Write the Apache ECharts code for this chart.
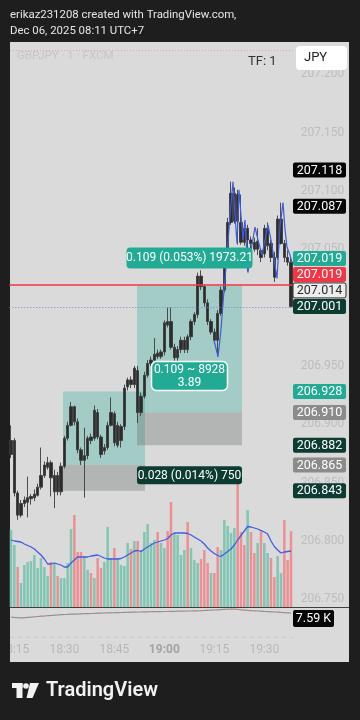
<!DOCTYPE html>
<html>
<head>
<meta charset="utf-8">
<script src="https://cdn.jsdelivr.net/npm/echarts@6/dist/echarts.min.js"></script>
<style>
  html, body { margin: 0; padding: 0; background: #1e1e1e; }
  #chart { width: 360px; height: 720px; }
</style>
</head>
<body>
<div id="chart"></div>
<script>
// GBPJPY 1-minute bars, 18:14 - 19:38
const minutes = [
  '18:14','18:15','18:16','18:17','18:18','18:19','18:20','18:21','18:22','18:23',
  '18:24','18:25','18:26','18:27','18:28','18:29','18:30','18:31','18:32','18:33',
  '18:34','18:35','18:36','18:37','18:38','18:39','18:40','18:41','18:42','18:43',
  '18:44','18:45','18:46','18:47','18:48','18:49','18:50','18:51','18:52','18:53',
  '18:54','18:55','18:56','18:57','18:58','18:59','19:00','19:01','19:02','19:03',
  '19:04','19:05','19:06','19:07','19:08','19:09','19:10','19:11','19:12','19:13',
  '19:14','19:15','19:16','19:17','19:18','19:19','19:20','19:21','19:22','19:23',
  '19:24','19:25','19:26','19:27','19:28','19:29','19:30','19:31','19:32','19:33',
  '19:34','19:35','19:36','19:37','19:38'
];
const timeTicks = ['18:15', '18:30', '18:45', '19:00', '19:15', '19:30'];

const opens = [
  206.874,206.841,206.841,206.822,206.832,206.833,206.836,206.837,206.839,206.846,
  206.856,206.863,206.867,206.842,206.856,206.842,206.864,206.888,206.899,206.915,
  206.902,206.878,206.869,206.873,206.889,206.888,206.910,206.889,206.877,206.880,
  206.899,206.909,206.882,206.886,206.898,206.932,206.938,206.934,206.946,206.910,
  206.924,206.942,206.952,206.955,206.961,206.958,206.962,206.988,206.988,206.957,
  206.957,206.964,206.964,206.975,206.975,206.988,206.994,207.027,207.018,207.004,
  206.979,206.979,206.995,206.995,207.015,207.043,207.073,207.074,207.097,207.073,
  207.068,207.058,207.058,207.056,207.050,207.049,207.046,207.053,207.055,207.043,
  207.043,207.055,207.055,207.043,207.039
];
const closes = [
  206.886,206.886,206.822,206.832,206.835,206.837,206.838,206.840,206.846,206.856,
  206.865,206.867,206.854,206.856,206.842,206.864,206.888,206.899,206.915,206.902,
  206.878,206.869,206.873,206.888,206.886,206.912,206.889,206.874,206.880,206.899,
  206.910,206.884,206.899,206.898,206.931,206.938,206.934,206.948,206.910,206.924,
  206.942,206.952,206.955,206.960,206.958,206.962,206.987,206.985,206.966,206.966,
  206.964,206.972,206.972,206.964,206.988,206.994,207.027,207.018,207.004,206.988,
  206.988,206.972,206.972,207.015,207.043,207.073,207.098,207.098,207.074,207.056,
  207.056,207.068,207.055,207.050,207.057,207.043,207.068,207.068,207.043,207.026,
  207.076,207.076,207.043,207.039,207.001
];
const lows = [
  206.871,206.838,206.818,206.820,206.829,206.820,206.831,206.834,206.838,206.844,
  206.854,206.861,206.838,206.828,206.839,206.839,206.862,206.886,206.898,206.899,
  206.875,206.865,206.837,206.870,206.883,206.886,206.887,206.871,206.874,206.878,
  206.898,206.881,206.880,206.880,206.895,206.929,206.931,206.931,206.901,206.907,
  206.922,206.940,206.950,206.952,206.956,206.956,206.959,206.983,206.964,206.954,
  206.953,206.961,206.961,206.961,206.972,206.985,206.991,207.015,207.001,206.985,
  206.977,206.970,206.958,206.993,207.013,207.040,207.071,207.072,207.054,207.054,
  207.053,207.031,207.049,207.048,207.045,207.039,207.043,207.049,207.039,207.022,
  207.041,207.054,207.039,207.036,207.000
];
const highs = [
  206.899,206.888,206.843,206.835,206.838,206.855,206.840,206.844,206.849,206.880,
  206.868,206.872,206.869,206.861,206.859,206.867,206.890,206.902,206.919,206.916,
  206.905,206.880,206.897,206.890,206.892,206.916,206.913,206.891,206.883,206.902,
  206.923,206.911,206.902,206.900,206.934,206.940,206.941,206.950,206.950,206.927,
  206.945,206.955,206.958,206.974,206.964,206.964,206.989,207.000,207.000,206.969,
  206.967,206.975,206.975,206.977,206.990,206.996,207.030,207.032,207.020,207.007,
  206.990,206.982,206.998,207.018,207.045,207.077,207.108,207.103,207.101,207.097,
  207.073,207.071,207.061,207.060,207.068,207.051,207.071,207.073,207.058,207.048,
  207.079,207.090,207.058,207.049,207.044
];

// volume in thousands, with its moving average
const volumes = [
  7.7,6.2,4.0,2.4,4.2,4.5,4.6,5.2,3.9,4.9,
  4.0,3.1,4.5,4.4,3.1,2.9,2.9,4.4,7.8,9.2,
  5.5,5.5,5.1,3.7,3.4,2.9,4.9,3.9,4.5,8.0,
  4.9,5.9,4.9,4.2,4.1,6.4,5.8,6.6,6.6,5.7,
  7.5,8.3,6.4,6.7,7.5,6.4,5.9,7.6,10.5,7.4,
  7.2,5.2,5.7,8.5,5.9,4.7,4.4,4.8,5.7,4.4,
  3.4,3.4,6.0,5.7,8.7,8.1,7.4,7.9,12.4,7.5,
  6.2,9.7,7.5,5.4,6.4,7.7,6.4,5.4,4.9,3.0,
  5.1,3.4,8.7,4.7,7.59
];
const volumeMA = [
  6.7,6.6,6.55,6.5,6.3,6.15,6.0,5.8,5.5,5.2,
  4.8,4.3,4.3,4.4,4.3,4.2,4.0,4.0,4.4,4.7,
  5.0,5.0,5.0,5.0,5.1,5.15,5.2,5.05,4.9,4.8,
  4.8,4.8,4.8,4.85,5.0,5.2,5.4,5.6,5.65,5.55,
  5.8,6.0,6.2,6.4,6.5,6.6,6.7,6.85,7.2,7.4,
  7.4,7.4,7.4,7.35,7.2,7.0,6.8,6.6,6.3,5.9,
  5.6,5.35,5.15,5.05,5.3,5.55,5.8,6.2,6.7,7.15,
  7.6,8.05,8.0,7.9,7.8,7.65,7.5,7.3,6.6,6.05,
  5.7,5.4,5.5,5.55,5.6
];

// lower oscillator pane
const oscillator = [
  9.0,8.6,8.3,8.1,8.3,8.6,8.9,9.2,9.5,9.8,
  10.0,10.3,10.5,10.8,11.0,11.3,11.5,11.6,11.8,11.9,
  12.0,12.2,12.3,12.4,12.5,12.6,12.8,12.9,13.0,13.1,
  13.2,13.3,13.4,13.5,13.6,13.7,13.8,13.9,14.0,14.0,
  14.1,14.2,14.3,14.3,14.4,14.4,14.5,14.5,14.6,14.7,
  14.8,14.9,14.9,15.0,15.0,15.1,15.2,15.3,15.5,15.7,
  15.9,16.0,16.2,16.4,16.6,16.8,17.0,16.9,16.6,16.2,
  15.9,15.6,15.4,15.2,15.0,14.8,14.6,14.4,14.2,14.0,
  13.8,13.6,13.4,13.2,13.0
];

// intrabar tick line (bar position, price)
const tickPos = [60.9,62.1,63.0,63.9,64.8,65.7,66.6,67.2,67.8,68.4,69.0,69.6,70.2,71.1,72.0,73.2,74.1,75.3,76.2,77.1,78.0,78.9,79.8,80.7,81.6,82.2,82.8,83.7,84.3];
const tickPrice = [206.972,206.958,206.981,207.015,207.045,207.079,207.108,207.079,207.055,207.101,207.079,207.058,207.075,207.030,207.049,207.069,207.058,207.045,207.058,207.071,207.058,207.042,207.025,207.069,207.090,207.067,207.052,207.045,207.039];

// long-position tools
const boxStart  = [15.6, 37.8];
const boxEnd    = [40.2, 69.3];
const boxTarget = [206.928, 207.019];
const boxEntry  = [206.865, 206.910];
const boxStop   = [206.843, 206.882];
const positionAmounts = ['1973.21', '8928', '750'];

// price lines
const alertPrice = 207.019;
const lastPrice = 207.001;

// price-scale tags, top to bottom
const tagValues = [207.118, 207.087, 207.019, 207.019, 207.014, 207.001, 206.928, 206.910, 206.882, 206.865, 206.843];
const tagKinds  = ['black', 'black', 'teal', 'red', 'light', 'dark', 'teal', 'gray', 'dark', 'gray', 'dark'];
const volumeTag = '7.59 K';

const UP_VOL = '#7fc6b3';
const DOWN_VOL = '#ee8f93';
const TEAL = '#22ab94';
const DARK_GREEN = '#0c3b32';
const FONT = 'Roboto, "Noto Sans", sans-serif';

const GRID_L = 9.33;
const GRID_W = 283.33;

const chart = echarts.init(document.getElementById('chart'), null, { renderer: 'canvas' });

const candleData = opens.map((o, i) => [o, closes[i], lows[i], highs[i]]);
const volData = volumes.map((v, i) => ({
  value: v,
  itemStyle: { color: closes[i] >= opens[i] ? UP_VOL : DOWN_VOL }
}));
const tickData = tickPos.map((p, i) => [p, tickPrice[i]]);

const areas = [];
for (let k = 0; k < boxStart.length; k++) {
  areas.push([
    { coord: [boxStart[k], boxTarget[k]], itemStyle: { color: 'rgba(34,171,148,0.30)' } },
    { coord: [boxEnd[k], boxEntry[k]] }
  ]);
  areas.push([
    { coord: [boxStart[k], boxEntry[k]], itemStyle: { color: 'rgba(95,102,101,0.32)' } },
    { coord: [boxEnd[k], boxStop[k]] }
  ]);
}

chart.setOption({
  backgroundColor: '#1e1e1e',
  animation: false,
  textStyle: { fontFamily: FONT },
  grid: [
    { left: GRID_L, width: GRID_W, top: 74.4, height: 524.7, outerBoundsMode: 'none' },
    { left: GRID_L, width: GRID_W, top: 480, height: 127, outerBoundsMode: 'none' },
    { left: GRID_L, width: GRID_W, top: 606, height: 20, outerBoundsMode: 'none' }
  ],
  xAxis: [
    { type: 'category', gridIndex: 0, data: minutes, show: false },
    { type: 'value', gridIndex: 0, min: -0.5, max: 84.5, show: false },
    { type: 'category', gridIndex: 1, data: minutes, show: false },
    {
      type: 'category', gridIndex: 2, data: minutes,
      axisLine: { show: false }, axisTick: { show: false }, splitLine: { show: false },
      axisLabel: {
        interval: (idx, val) => timeTicks.indexOf(val) >= 0,
        margin: 18, color: '#b8b8b8', fontSize: 12, fontFamily: FONT,
        formatter: v => (v === '19:00' ? '{b|' + v + '}' : v),
        rich: { b: { fontWeight: 'bold', color: '#a3a3a3', fontSize: 12, fontFamily: FONT } }
      }
    }
  ],
  yAxis: [
    {
      type: 'value', gridIndex: 0, position: 'right',
      min: 206.75, max: 207.2, interval: 0.05,
      axisLine: { show: false }, axisTick: { show: false }, splitLine: { show: false },
      axisLabel: { color: '#bdbdbd', fontSize: 12, margin: 8, fontFamily: FONT, formatter: v => v.toFixed(3) }
    },
    { type: 'value', gridIndex: 1, min: 0, max: 12.7, show: false },
    { type: 'value', gridIndex: 2, min: 0, max: 20, show: false }
  ],
  series: [
    {
      name: 'Volume', type: 'bar', xAxisIndex: 2, yAxisIndex: 1,
      data: volData, barWidth: 2.5, z: 1, silent: true
    },
    {
      name: 'Volume MA', type: 'line', xAxisIndex: 2, yAxisIndex: 1,
      data: volumeMA, symbol: 'none', z: 2, silent: true,
      lineStyle: { color: '#3f5ee0', width: 1.3 }
    },
    {
      name: 'Oscillator', type: 'line', xAxisIndex: 3, yAxisIndex: 2,
      data: oscillator, symbol: 'none', silent: true,
      lineStyle: { color: '#4fae98', width: 1.2, type: [3, 3] }
    },
    {
      name: 'Oscillator red', type: 'line', xAxisIndex: 3, yAxisIndex: 2,
      data: oscillator, symbol: 'none', silent: true,
      lineStyle: { color: '#e06a70', width: 1.2, type: [3, 3], dashOffset: 3 }
    },
    {
      name: 'GBPJPY', type: 'candlestick', xAxisIndex: 0, yAxisIndex: 0,
      data: candleData, barWidth: 2.6, z: 3, silent: true,
      itemStyle: {
        color: '#2c2c2c', color0: '#2c2c2c',
        borderColor: '#3c3c3c', borderColor0: '#3c3c3c', borderWidth: 0.9
      }
    },
    {
      name: 'Ticks', type: 'line', xAxisIndex: 1, yAxisIndex: 0,
      data: tickData, symbol: 'none', z: 4, silent: true,
      lineStyle: { color: '#3f5bd8', width: 1.2 }
    },
    {
      name: 'Positions', type: 'line', xAxisIndex: 1, yAxisIndex: 0,
      data: [], z: 6, silent: true,
      markArea: { silent: true, data: areas, label: { show: false } }
    },
    {
      name: 'Price lines', type: 'line', xAxisIndex: 1, yAxisIndex: 0,
      data: [], z: 7, silent: true,
      markLine: {
        silent: true, symbol: 'none', label: { show: false },
        data: [
          { yAxis: alertPrice, lineStyle: { color: '#f23645', width: 1.5, type: 'solid' } },
          { yAxis: lastPrice, lineStyle: { color: '#7088d8', width: 1, type: [1, 2] } }
        ]
      }
    }
  ]
});

// overlay: panel, header, tags and labels
const px = v => chart.convertToPixel({ xAxisIndex: 1 }, v);
const py = v => chart.convertToPixel({ yAxisIndex: 0 }, v);

const TAG_STYLE = {
  black: { fill: '#050505', text: '#ffffff' },
  teal:  { fill: TEAL, text: '#ffffff' },
  red:   { fill: '#f23645', text: '#ffffff' },
  light: { fill: '#eeeeee', text: '#2b2b2b', stroke: '#2b2b2b' },
  dark:  { fill: DARK_GREEN, text: '#ffffff' },
  gray:  { fill: '#8b8b8b', text: '#ffffff' }
};

function textEl(x, y, text, font, fill, align, z) {
  return {
    type: 'text', x: x, y: y, z: z || 50, silent: true,
    style: {
      text: text, font: font, fill: fill,
      align: align || 'left', verticalAlign: 'middle',
      textAlign: align || 'left', textVerticalAlign: 'middle'
    }
  };
}

const elements = [];

// light chart panel
elements.push({
  type: 'rect', z: -10, silent: true,
  shape: { x: 10, y: 42, width: 339, height: 620 },
  style: { fill: '#dadada' }
});

// header
elements.push(textEl(10, 15, 'erikaz231208 created with TradingView.com,', '11.4px ' + FONT, '#e6e6e6'));
elements.push(textEl(10, 31, 'Dec 06, 2025 08:11 UTC+7', '11.4px ' + FONT, '#e6e6e6'));

// symbol line
elements.push({
  type: 'line', z: 5, silent: true,
  shape: { x1: 10, y1: 50.5, x2: 293, y2: 50.5 },
  style: { stroke: '#e6a2aa', lineWidth: 1, lineDash: [1, 2] }
});
elements.push(textEl(17, 56, 'GBPJPY · 1 · FXCM', '11.5px ' + FONT, '#c6c6c6'));
elements.push(textEl(248, 62, 'TF: 1', '13px ' + FONT, '#333333'));
elements.push({
  type: 'rect', z: 60, silent: true,
  shape: { x: 296, y: 46, width: 51, height: 24, r: 4 },
  style: { fill: '#ffffff' }
});
elements.push(textEl(304, 58, 'JPY', '13px ' + FONT, '#222222', 'left', 61));

// pane separators
elements.push({
  type: 'line', z: 40, silent: true,
  shape: { x1: 10, y1: 607.5, x2: 349, y2: 607.5 },
  style: { stroke: '#3f3f3f', lineWidth: 1 }
});
elements.push({
  type: 'line', z: 5, silent: true,
  shape: { x1: 10, y1: 637.5, x2: 293, y2: 637.5 },
  style: { stroke: '#c8c8c8', lineWidth: 1, lineDash: [4, 4] }
});

// price-scale tags, stacked so they do not overlap
const TAG_H = 15, TAG_STEP = 16;
const tagY = new Array(tagValues.length);
let prevY = Infinity;
for (let i = tagValues.length - 1; i >= 0; i--) {
  let y = py(tagValues[i]);
  if (y > prevY - TAG_STEP) y = prevY - TAG_STEP;
  tagY[i] = y;
  prevY = y;
}
tagValues.forEach((v, i) => {
  const s = TAG_STYLE[tagKinds[i]];
  elements.push({
    type: 'rect', z: 80, silent: true,
    shape: { x: 293, y: tagY[i] - TAG_H / 2, width: 53, height: TAG_H, r: 2 },
    style: { fill: s.fill, stroke: s.stroke || null, lineWidth: s.stroke ? 1 : 0 }
  });
  elements.push(textEl(319.5, tagY[i] + 0.5, v.toFixed(3), '12.5px ' + FONT, s.text, 'center', 81));
});

// volume pane tag
elements.push({
  type: 'rect', z: 80, silent: true,
  shape: { x: 293, y: 610, width: 41, height: 17, r: 2 },
  style: { fill: '#050505' }
});
elements.push(textEl(313.5, 619, volumeTag, '12.5px ' + FONT, '#ffffff', 'center', 81));

// position tool labels (second long position)
const k2 = 1;
const reward = boxTarget[k2] - boxEntry[k2];
const risk = boxEntry[k2] - boxStop[k2];
const midX = (px(boxStart[k2]) + px(boxEnd[k2])) / 2;
const rewardText = reward.toFixed(3) + ' (' + (reward / boxEntry[k2] * 100).toFixed(3) + '%) ' + positionAmounts[0];
const riskText = risk.toFixed(3) + ' (' + (risk / boxEntry[k2] * 100).toFixed(3) + '%) ' + positionAmounts[2];
const ratioText = reward.toFixed(3) + ' ~ ' + positionAmounts[1] + '\n' + (reward / risk).toFixed(2);

const topY = py(boxTarget[k2]);
elements.push({
  type: 'rect', z: 70, silent: true,
  shape: { x: midX - 63, y: topY - 38, width: 126, height: 21, r: 4 },
  style: { fill: TEAL }
});
elements.push(textEl(midX, topY - 27.5, rewardText, '12px ' + FONT, '#ffffff', 'center', 71));

const entryY = py(boxEntry[k2]);
elements.push({
  type: 'rect', z: 70, silent: true,
  shape: { x: midX - 38, y: entryY - 51, width: 76, height: 29, r: 5 },
  style: { fill: TEAL, stroke: '#ffffff', lineWidth: 1.5 }
});
elements.push({
  type: 'text', x: midX, y: entryY - 36.5, z: 71, silent: true,
  style: {
    text: ratioText, font: '12px ' + FONT, fill: '#ffffff', lineHeight: 13,
    align: 'center', verticalAlign: 'middle', textAlign: 'center', textVerticalAlign: 'middle'
  }
});

const stopY = py(boxStop[k2]);
elements.push({
  type: 'rect', z: 70, silent: true,
  shape: { x: midX - 52.5, y: stopY + 21, width: 105, height: 18, r: 3 },
  style: { fill: DARK_GREEN }
});
elements.push(textEl(midX, stopY + 30.5, riskText, '12px ' + FONT, '#ffffff', 'center', 71));

// clip the time labels at the panel's left edge
elements.push({
  type: 'rect', z: 200, silent: true,
  shape: { x: 0, y: 640, width: 10, height: 22 },
  style: { fill: '#1e1e1e' }
});

// footer logo
elements.push({
  type: 'group', z: 50, silent: true,
  children: [
    { type: 'rect', shape: { x: 12, y: 683, width: 10.5, height: 5 }, style: { fill: '#f2f2f2' } },
    { type: 'rect', shape: { x: 16.5, y: 683, width: 6, height: 15 }, style: { fill: '#f2f2f2' } },
    { type: 'circle', shape: { cx: 26, cy: 686, r: 2.8 }, style: { fill: '#f2f2f2' } },
    { type: 'polygon', shape: { points: [[30, 683], [39, 683], [32.5, 698], [26.5, 698]] }, style: { fill: '#f2f2f2' } }
  ]
});
elements.push(textEl(46, 691, 'TradingView', '600 20px ' + FONT, '#f2f2f2'));

chart.setOption({ graphic: { elements: elements } });
</script>
</body>
</html>
